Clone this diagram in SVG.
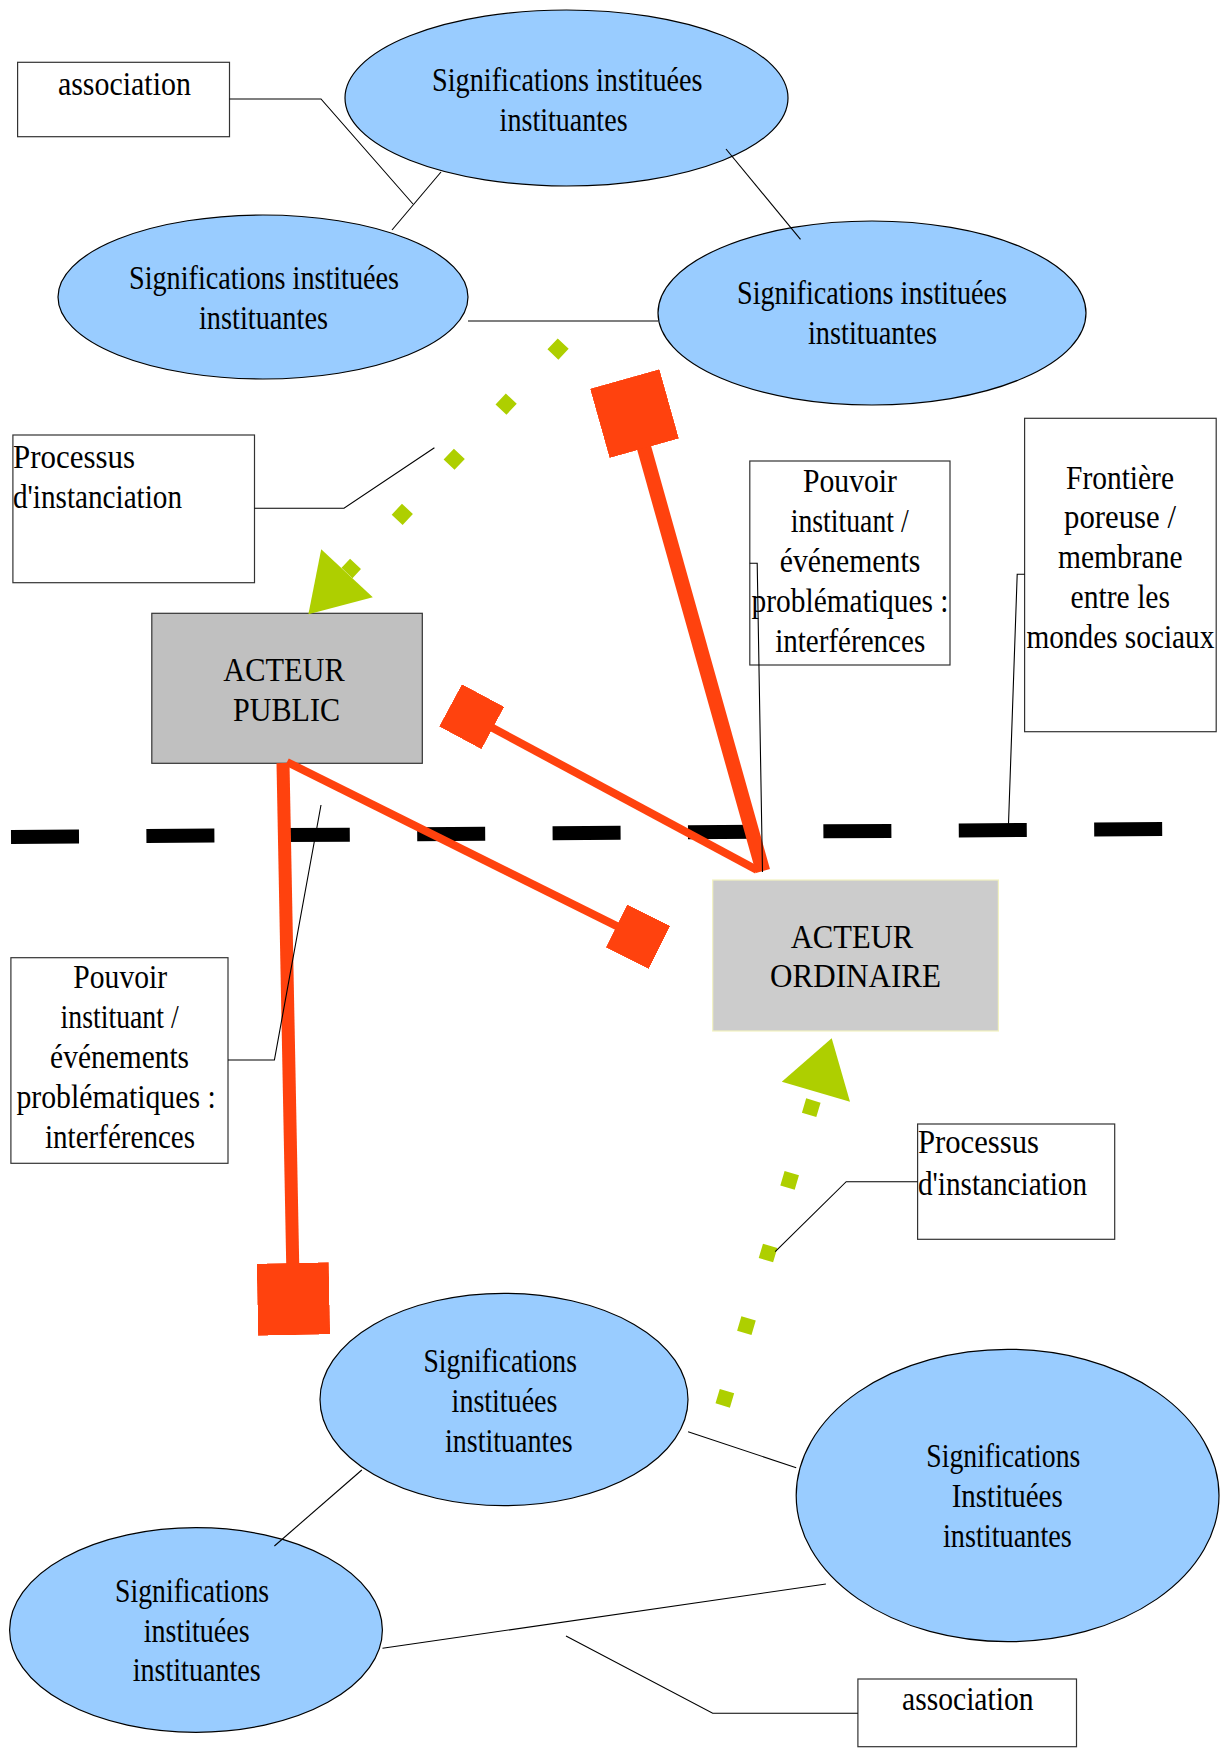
<svg xmlns="http://www.w3.org/2000/svg" width="1224" height="1753" viewBox="0 0 1224 1753">
<style>
text{font-family:"Liberation Serif","Times New Roman",serif;font-size:34px;fill:#000}
.c{text-anchor:middle}
.ell{fill:#99ccff;stroke:#000;stroke-width:1.2}
.box{fill:#fff;stroke:#333;stroke-width:1.2}
.thin{fill:none;stroke:#000;stroke-width:1.1}
.org{stroke:#ff420e;fill:none}
.grn{stroke:#aecf00;stroke-width:15;fill:none}
.gh{fill:#aecf00}
</style>
<defs>
<marker id="sqBig" markerUnits="userSpaceOnUse" viewBox="0 0 72 72" markerWidth="72" markerHeight="72" refX="36" refY="36" orient="auto"><rect width="72" height="72" fill="#ff420e"/></marker>
<marker id="sqSmall" markerUnits="userSpaceOnUse" viewBox="0 0 48 48" markerWidth="48" markerHeight="48" refX="24" refY="24" orient="auto"><rect width="48" height="48" fill="#ff420e"/></marker>
</defs>
<rect width="1224" height="1753" fill="#fff"/>

<g id="e1"><ellipse class="ell" cx="566.5" cy="98" rx="221.5" ry="88"/>
<text class="c" x="567.3" y="91" textLength="270.6" lengthAdjust="spacingAndGlyphs">Significations instituées</text>
<text class="c" x="563.6" y="131" textLength="128" lengthAdjust="spacingAndGlyphs">instituantes</text></g>
<g id="e2"><ellipse class="ell" cx="263" cy="297" rx="205" ry="82"/>
<text class="c" x="264" y="289" textLength="270" lengthAdjust="spacingAndGlyphs">Significations instituées</text>
<text class="c" x="263.5" y="328.5" textLength="129" lengthAdjust="spacingAndGlyphs">instituantes</text></g>
<g id="e3"><ellipse class="ell" cx="872" cy="313" rx="214" ry="92"/>
<text class="c" x="872" y="304" textLength="270" lengthAdjust="spacingAndGlyphs">Significations instituées</text>
<text class="c" x="872.5" y="344" textLength="129" lengthAdjust="spacingAndGlyphs">instituantes</text></g>

<g id="assoc-top"><rect class="box" x="17.6" y="62.3" width="211.9" height="74.4"/>
<text class="c" x="124.4" y="95" textLength="133" lengthAdjust="spacingAndGlyphs">association</text></g>
<g id="processus-top"><rect class="box" x="12.9" y="435" width="241.6" height="147.7"/>
<text x="13" y="468" textLength="122" lengthAdjust="spacingAndGlyphs">Processus</text>
<text x="13" y="508" textLength="169" lengthAdjust="spacingAndGlyphs">d'instanciation</text></g>
<g id="pouvoir-right"><rect class="box" x="749.8" y="461" width="200.2" height="204"/>
<text class="c" x="850" y="491.7" textLength="94" lengthAdjust="spacingAndGlyphs">Pouvoir</text>
<text class="c" x="849.7" y="531.7" textLength="118" lengthAdjust="spacingAndGlyphs">instituant /</text>
<text class="c" x="850" y="571.7" textLength="140.5" lengthAdjust="spacingAndGlyphs">événements</text>
<text class="c" x="850" y="611.7" textLength="197" lengthAdjust="spacingAndGlyphs">problématiques :</text>
<text class="c" x="850.2" y="651.7" textLength="150" lengthAdjust="spacingAndGlyphs">interférences</text></g>
<g id="frontiere"><rect class="box" x="1024.6" y="418.3" width="191.6" height="313.4"/>
<text class="c" x="1120" y="489.3" textLength="108" lengthAdjust="spacingAndGlyphs">Frontière</text>
<text class="c" x="1120" y="528.3" textLength="112" lengthAdjust="spacingAndGlyphs">poreuse /</text>
<text class="c" x="1120.3" y="568.3" textLength="124.5" lengthAdjust="spacingAndGlyphs">membrane</text>
<text class="c" x="1120.3" y="608.3" textLength="99.5" lengthAdjust="spacingAndGlyphs">entre les</text>
<text class="c" x="1120.4" y="648.3" textLength="188" lengthAdjust="spacingAndGlyphs">mondes sociaux</text></g>

<g id="acteur-public"><rect x="151.8" y="613.3" width="270.5" height="150" fill="#c0c0c0" stroke="#333" stroke-width="1.2"/>
<text class="c" x="284" y="681" textLength="121.5" lengthAdjust="spacingAndGlyphs">ACTEUR</text>
<text class="c" x="286.6" y="720.7" textLength="107" lengthAdjust="spacingAndGlyphs">PUBLIC</text></g>
<g id="acteur-ordinaire"><rect x="712.7" y="880" width="285.7" height="151" fill="#cccccc" stroke="#f2f2c0" stroke-width="1.2"/>
<text class="c" x="852" y="947.7" textLength="122.5" lengthAdjust="spacingAndGlyphs">ACTEUR</text>
<text class="c" x="855.6" y="987.3" textLength="171" lengthAdjust="spacingAndGlyphs">ORDINAIRE</text></g>

<g id="pouvoir-left"><rect class="box" x="10.9" y="957.7" width="217.1" height="205.6"/>
<text class="c" x="120.2" y="988.3" textLength="93.7" lengthAdjust="spacingAndGlyphs">Pouvoir</text>
<text class="c" x="119.6" y="1028.3" textLength="118" lengthAdjust="spacingAndGlyphs">instituant /</text>
<text class="c" x="119.6" y="1068.3" textLength="139" lengthAdjust="spacingAndGlyphs">événements</text>
<text class="c" x="116.1" y="1108.3" textLength="199.4" lengthAdjust="spacingAndGlyphs">problématiques :</text>
<text class="c" x="120" y="1148.3" textLength="150" lengthAdjust="spacingAndGlyphs">interférences</text></g>
<g id="processus-bottom"><rect class="box" x="917.6" y="1124" width="197.1" height="115.3"/>
<text x="918" y="1153.3" textLength="121" lengthAdjust="spacingAndGlyphs">Processus</text>
<text x="918" y="1195" textLength="169" lengthAdjust="spacingAndGlyphs">d'instanciation</text></g>

<g id="e4"><ellipse class="ell" cx="504" cy="1399.5" rx="184" ry="106.2"/>
<text class="c" x="500.2" y="1371.7" textLength="153.5" lengthAdjust="spacingAndGlyphs">Significations</text>
<text class="c" x="504.5" y="1411.7" textLength="105.8" lengthAdjust="spacingAndGlyphs">instituées</text>
<text class="c" x="508.8" y="1451.7" textLength="127.6" lengthAdjust="spacingAndGlyphs">instituantes</text></g>
<g id="e5"><ellipse class="ell" cx="196" cy="1630" rx="186.4" ry="102.3"/>
<text class="c" x="192.1" y="1601.7" textLength="154" lengthAdjust="spacingAndGlyphs">Significations</text>
<text class="c" x="196.7" y="1641.7" textLength="106" lengthAdjust="spacingAndGlyphs">instituées</text>
<text class="c" x="196.7" y="1680.5" textLength="128" lengthAdjust="spacingAndGlyphs">instituantes</text></g>
<g id="e6"><ellipse class="ell" cx="1007.6" cy="1495.5" rx="211.4" ry="146.2"/>
<text class="c" x="1003.3" y="1466.7" textLength="154" lengthAdjust="spacingAndGlyphs">Significations</text>
<text class="c" x="1007.2" y="1506.7" textLength="111" lengthAdjust="spacingAndGlyphs">Instituées</text>
<text class="c" x="1007.4" y="1546.7" textLength="128.8" lengthAdjust="spacingAndGlyphs">instituantes</text></g>
<g id="assoc-bottom"><rect class="box" x="857.9" y="1679" width="218.6" height="67.7"/>
<text class="c" x="967.8" y="1710" textLength="131.5" lengthAdjust="spacingAndGlyphs">association</text></g>

<g id="frontier-line"><line x1="11" y1="837" x2="1162.2" y2="829" stroke="#000" stroke-width="14" stroke-dasharray="68 67.4"/></g>

<g id="connectors">
<line class="thin" x1="441" y1="172" x2="392" y2="230"/>
<line class="thin" x1="726" y1="149" x2="800.5" y2="239.3"/>
<line class="thin" x1="468" y1="321" x2="658" y2="321"/>
<line class="thin" x1="361.8" y1="1470" x2="274.4" y2="1546"/>
<line class="thin" x1="688.1" y1="1431.7" x2="796.2" y2="1467.7"/>
<line class="thin" x1="382.5" y1="1648.3" x2="825.9" y2="1584"/>

<line class="grn" x1="563.2" y1="343.6" x2="347" y2="573" stroke-dasharray="15 60.7"/>
<polygon class="gh" points="321.2,549.3 372.8,597.3 308.4,614.3"/>
<line class="grn" x1="722.7" y1="1405.5" x2="816" y2="1091.7" stroke-dasharray="15 60.8"/>
<polygon class="gh" points="831.7,1038.3 781.8,1081.7 850,1101.7"/>

<line class="org" x1="634.5" y1="413.6" x2="763" y2="871" stroke-width="14.5" marker-start="url(#sqBig)"/>
<line class="org" x1="471.7" y1="716.7" x2="757" y2="870" stroke-width="8" marker-start="url(#sqSmall)"/>
<line class="org" x1="287" y1="762" x2="638" y2="936.7" stroke-width="8" marker-end="url(#sqSmall)"/>
<line class="org" x1="283" y1="763" x2="293.4" y2="1299" stroke-width="13" marker-end="url(#sqBig)"/>

<polyline class="thin" points="229.5,99 321,99 413,204"/>
<polyline class="thin" points="254.5,508.3 344,508.3 434.4,447.7"/>
<polyline class="thin" points="749.8,563.3 757.2,563.3 762.5,872"/>
<polyline class="thin" points="1024.6,574.3 1017.2,574.3 1008.5,824"/>
<polyline class="thin" points="228,1060 274.4,1060 321,805"/>
<polyline class="thin" points="917.6,1181.7 846.2,1181.7 775.2,1251.7"/>
<polyline class="thin" points="857.9,1713.3 712.7,1713.3 566,1636"/>
</g>
</svg>
